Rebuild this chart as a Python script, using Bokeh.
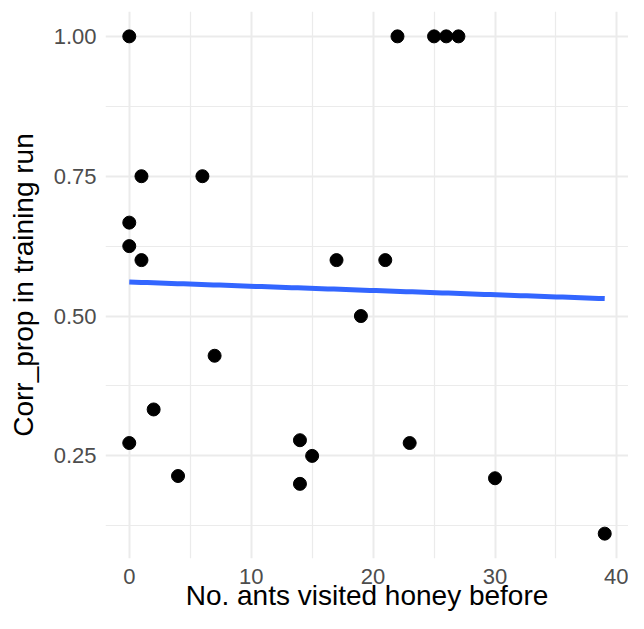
import numpy as np
from bokeh.plotting import figure
from bokeh.models import FixedTicker, Range1d, ColumnDataSource
from bokeh.embed import file_html
from bokeh.resources import INLINE

# data
ants_before = [0, 22, 25, 26, 27, 1, 6, 0, 0, 1, 17, 21, 19, 7, 2, 0, 14, 23, 15, 4, 14, 30, 39]
corr_prop = [1.0, 1.0, 1.0, 1.0, 1.0, 0.75, 0.75, 0.667, 0.625, 0.6, 0.6, 0.6, 0.5,
             0.429, 0.333, 0.273, 0.278, 0.273, 0.25, 0.214, 0.2, 0.21, 0.111]

x_ticks = [0, 10, 20, 30, 40]
x_minor = [5, 15, 25, 35]
y_ticks = [0.25, 0.50, 0.75, 1.00]
y_minor = [0.125, 0.375, 0.625, 0.875]
y_tick_labels = {t: f"{t:.2f}" for t in y_ticks}

# linear fit (geom_smooth method = "lm")
slope, intercept = np.polyfit(ants_before, corr_prop, 1)
fit_x = np.linspace(min(ants_before), max(ants_before), 80)
fit_y = slope * fit_x + intercept

xmin, xmax = min(ants_before), max(ants_before)
ymin, ymax = min(corr_prop), max(corr_prop)
xpad = 0.05 * (xmax - xmin)
ypad = 0.05 * (ymax - ymin)

p = figure(width=628, height=613, output_backend="svg", toolbar_location=None,
           x_range=Range1d(xmin - xpad, xmax + xpad),
           y_range=Range1d(ymin - ypad, ymax + ypad),
           min_border_left=105, min_border_right=0, min_border_top=11, min_border_bottom=10)
p.outline_line_color = None
p.background_fill_color = "white"
p.border_fill_color = "white"

p.xaxis.ticker = FixedTicker(ticks=x_ticks, minor_ticks=x_minor)
p.yaxis.ticker = FixedTicker(ticks=y_ticks, minor_ticks=y_minor)
p.yaxis.major_label_overrides = y_tick_labels

for ax in (p.xaxis[0], p.yaxis[0]):
    ax.axis_line_color = None
    ax.major_tick_line_color = None
    ax.minor_tick_line_color = None
    ax.major_tick_out = 0
    ax.major_tick_in = 0
    ax.minor_tick_out = 0
    ax.minor_tick_in = 0
    ax.major_label_text_font = "Liberation Sans"
    ax.major_label_text_font_size = "22px"
    ax.major_label_text_color = "#4D4D4D"
    ax.axis_label_text_font = "Liberation Sans"
    ax.axis_label_text_font_size = "28px"
    ax.axis_label_text_font_style = "normal"
    ax.axis_label_text_color = "black"

p.xaxis.axis_label = "No. ants visited honey before"
p.yaxis.axis_label = "Corr_prop in training run"
p.xaxis.major_label_standoff = 10
p.xaxis.axis_label_standoff = -7
p.yaxis.major_label_standoff = 9
p.yaxis.axis_label_standoff = 12

for g in (p.xgrid[0], p.ygrid[0]):
    g.grid_line_color = "#EBEBEB"
    g.grid_line_width = 2
    g.minor_grid_line_color = "#EBEBEB"
    g.minor_grid_line_width = 1.2

src = ColumnDataSource(dict(x=ants_before, y=corr_prop))
p.scatter("x", "y", source=src, size=13, color="black")
p.line(fit_x, fit_y, line_color="#3366FF", line_width=5)

open("out.html", "w").write(file_html(p, INLINE))
